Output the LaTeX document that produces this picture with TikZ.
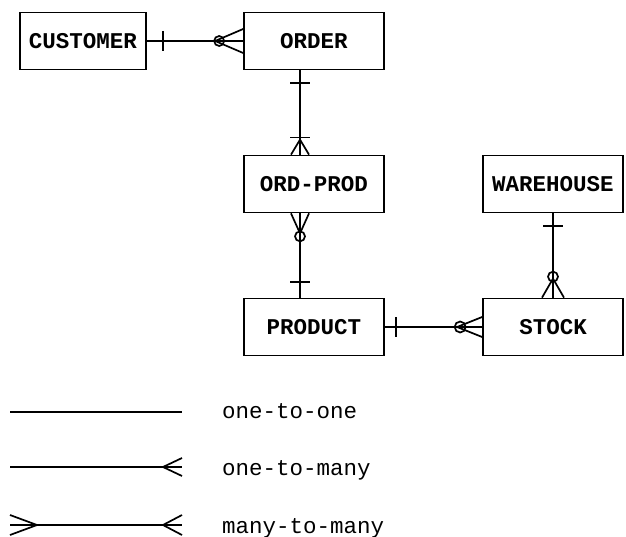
\documentclass[tikz,border=0pt]{standalone}
\usepackage{fontspec}
\setmonofont{Liberation Mono}
\usetikzlibrary{positioning, calc}
\tikzset{
  entity/.style={draw, line width=1.7pt, minimum width=140pt, minimum height=57pt, inner sep=0pt,
    font=\ttfamily\bfseries\fontsize{22.5}{24}\selectfont},
  link/.style={line width=1.7pt},
  legtext/.style={anchor=base west, inner sep=0pt, font=\ttfamily\fontsize{22.5}{24}\selectfont}
}
\begin{document}
\begin{tikzpicture}[x=1pt, y=-1pt]
    \useasboundingbox (0,0) rectangle (626,537);
    % entities
    \node[entity, minimum width=126pt] (customer) at (83,41) {CUSTOMER};
    \node[entity] (order) at (314,41) {ORDER};
    \node[entity] (ordprod) at (314,184) {ORD-PROD};
    \node[entity] (product) at (314,327) {PRODUCT};
    \node[entity] (warehouse) at (553,184) {WAREHOUSE};
    \node[entity] (stock) at (553,327) {STOCK};
    % customer -- order
    \draw[link] (customer.east) -- (order.west);
    \draw[link] ($(customer.east)+(16,-10)$) -- ++(0,20);
    \draw[link] ($(order.west)+(-24,0)$) circle[radius=5pt];
    \draw[link] ($(order.west)+(0,-12)$) -- ($(order.west)+(-28,0)$) -- ($(order.west)+(0,12)$);
    % order -- ord-prod
    \coordinate (ordbot) at ($(order.south)+(-14,0)$);
    \coordinate (optop) at ($(ordprod.north)+(-14,0)$);
    \draw[link] (ordbot) -- (optop);
    \draw[link] ($(ordbot)+(-10,13)$) -- ++(20,0);
    \draw[link] ($(optop)+(-10,-17)$) -- ++(20,0);
    \draw[link] ($(optop)+(-9,0)$) -- ($(optop)+(0,-15)$) -- ($(optop)+(9,0)$);
    % ord-prod -- product
    \coordinate (opbot) at ($(ordprod.south)+(-14,0)$);
    \coordinate (prtop) at ($(product.north)+(-14,0)$);
    \draw[link] (opbot) -- (prtop);
    \draw[link] ($(opbot)+(-9,0)$) -- ($(opbot)+(0,20)$) -- ($(opbot)+(9,0)$);
    \draw[link] ($(opbot)+(0,23)$) circle[radius=5pt];
    \draw[link] ($(prtop)+(-10,-16)$) -- ++(20,0);
    % product -- stock
    \draw[link] (product.east) -- (stock.west);
    \draw[link] ($(product.east)+(11,-10)$) -- ++(0,20);
    \draw[link] ($(stock.west)+(-22,0)$) circle[radius=5.5pt];
    \draw[link] ($(stock.west)+(0,-10)$) -- ($(stock.west)+(-25,0)$) -- ($(stock.west)+(0,10)$);
    % warehouse -- stock
    \draw[link] (warehouse.south) -- (stock.north);
    \draw[link] ($(warehouse.south)+(-10,13)$) -- ++(20,0);
    \draw[link] ($(stock.north)+(0,-21)$) circle[radius=5pt];
    \draw[link] ($(stock.north)+(-11,0)$) -- ($(stock.north)+(0,-19)$) -- ($(stock.north)+(11,0)$);
    % legend
    \coordinate (oneA) at (10,412);
    \coordinate (oneB) at (182,412);
    \coordinate (manyA) at (10,467);
    \coordinate (manyB) at (182,467);
    \coordinate (mmA) at (10,525);
    \coordinate (mmB) at (182,525);
    \draw[link] (oneA) -- (oneB);
    \draw[link] (manyA) -- (manyB);
    \draw[link] ($(manyB)+(0,-9)$) -- ($(manyB)+(-19,0)$) -- ($(manyB)+(0,9)$);
    \draw[link] (mmA) -- (mmB);
    \draw[link] ($(mmB)+(0,-10)$) -- ($(mmB)+(-19,0)$) -- ($(mmB)+(0,10)$);
    \draw[link] ($(mmA)+(0,-10)$) -- ($(mmA)+(27,0)$) -- ($(mmA)+(0,10)$);
    \node[legtext] (oneone) at (222,418) {one-to-one};
    \node[legtext] (onemany) at (222,475) {one-to-many};
    \node[legtext] (manymany) at (222,533) {many-to-many};
\end{tikzpicture}
\end{document}
